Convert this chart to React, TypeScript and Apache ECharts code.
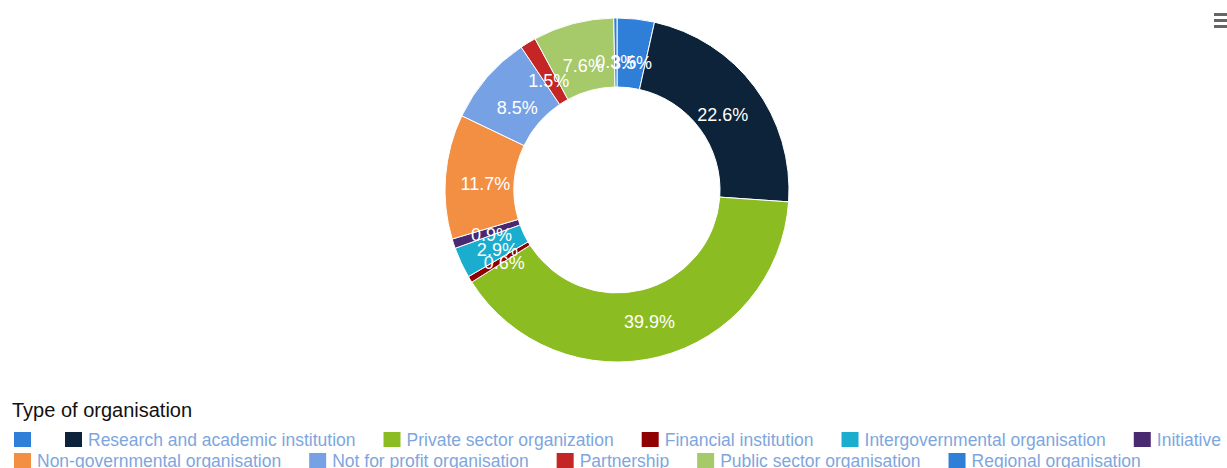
import React, { useEffect, useRef } from "react";
import * as echarts from "echarts";

const categories = [
  "\u200b",
  "Research and academic institution",
  "Private sector organization",
  "Financial institution",
  "Intergovernmental organisation",
  "Initiative",
  "Non-governmental organisation",
  "Not for profit organisation",
  "Partnership",
  "Public sector organisation",
  "Regional organisation",
];
const values = [3.5, 22.6, 39.9, 0.6, 2.9, 0.9, 11.7, 8.5, 1.5, 7.6, 0.3];
const colors = [
  "#2f7ed8",
  "#0d233a",
  "#8bbc21",
  "#910000",
  "#1aadce",
  "#492970",
  "#f28f43",
  "#77a1e5",
  "#c42525",
  "#a6c96a",
  "#2f7ed8",
];
const legendTitle = "Type of organisation";
const legendRow1 = categories.slice(0, 6);
const legendRow2 = categories.slice(6);

const FONT = "'Liberation Sans', Arial, sans-serif";
const CX = 617;
const CY = 190;
const LABEL_R = 132;

export default function App() {
  const ref = useRef<HTMLDivElement>(null);
  useEffect(() => {
    document.body.style.margin = "0";
    const chart = echarts.init(ref.current!, null, { renderer: "svg" });
    const legendCommon = {
      left: 12,
      orient: "horizontal",
      itemWidth: 19,
      itemHeight: 17,
      itemGap: 26,
      icon: "rect",
      selectedMode: false,
      width: 2000,
      textStyle: { fontSize: 17.5, color: "#7ea6de", fontFamily: FONT, padding: [0, 0, 0, 0] },
      padding: 0,
    };
    chart.setOption({
      animation: false,
      color: colors,
      title: {
        text: legendTitle,
        left: 12,
        top: 400,
        padding: 0,
        textStyle: { fontSize: 20, fontWeight: "normal", color: "#111", fontFamily: FONT },
      },
      legend: [
        { ...legendCommon, top: 430, data: legendRow1 },
        { ...legendCommon, top: 451, data: legendRow2 },
      ],
      graphic: [
        { type: "rect", shape: { x: 1214, y: 13, width: 14, height: 3 }, style: { fill: "#666" } },
        { type: "rect", shape: { x: 1214, y: 19, width: 14, height: 3 }, style: { fill: "#666" } },
        { type: "rect", shape: { x: 1214, y: 25, width: 14, height: 3 }, style: { fill: "#666" } },
      ],
      series: [
        {
          type: "pie",
          center: [CX, CY],
          radius: [103, 172],
          startAngle: 90,
          clockwise: true,
          avoidLabelOverlap: false,
          itemStyle: { borderColor: "#fff", borderWidth: 1 },
          label: {
            show: true,
            position: "inside",
            color: "#fff",
            fontSize: 18,
            fontFamily: FONT,
            formatter: (p: any) => p.value.toFixed(1) + "%",
          },
          labelLayout: (params: any) => {
            const r = params.labelRect;
            const lx = r.x + r.width / 2;
            const ly = r.y + r.height / 2;
            const dx = lx - CX;
            const dy = ly - CY;
            const d = Math.sqrt(dx * dx + dy * dy) || 1;
            const k = LABEL_R / d;
            return {
              x: CX + dx * k,
              y: CY + dy * k + 4,
              align: "center",
              verticalAlign: "middle",
              hideOverlap: false,
            };
          },
          labelLine: { show: false },
          emphasis: { disabled: true },
          data: categories.map((name, i) => ({ name, value: values[i] })),
        },
      ],
    });
    return () => chart.dispose();
  }, []);
  return <div ref={ref} style={{ width: 1227, height: 468 }} />;
}
